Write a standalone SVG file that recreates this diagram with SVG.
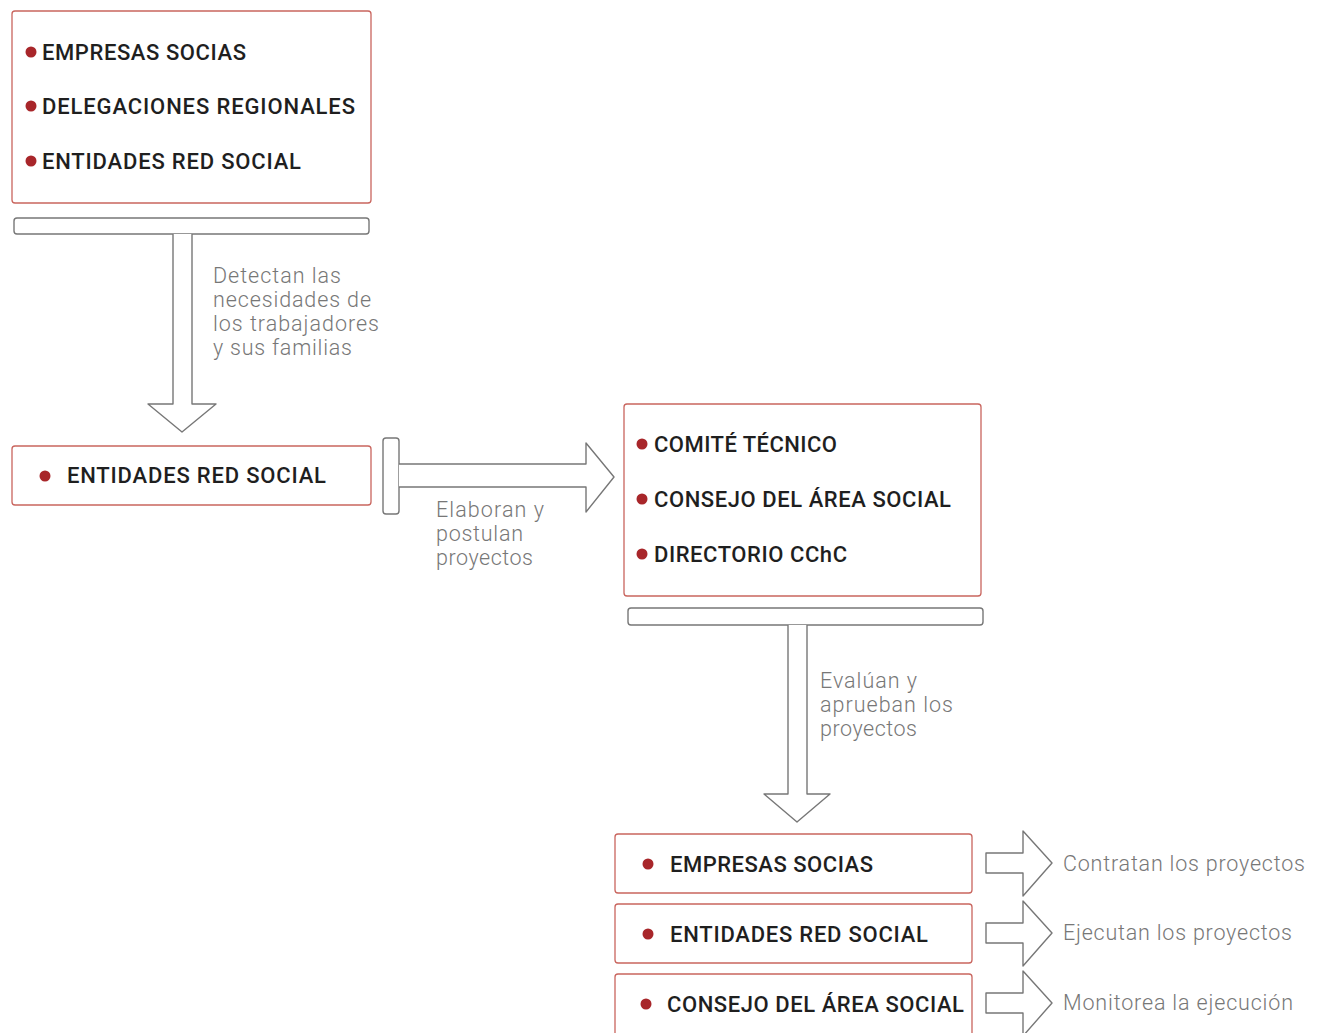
<svg xmlns="http://www.w3.org/2000/svg" width="1324" height="1033" viewBox="0 0 1324 1033">
<style>
.box{fill:#fff;stroke:#c9655e;stroke-width:1.3}
.arw{fill:#fff;stroke:#777;stroke-width:1.4;stroke-linejoin:round}
.b{fill:#a8262a}
.t{font-family:Roboto,"Liberation Sans",sans-serif;font-weight:500;font-size:22px;fill:#1f1f1f}
.g{font-family:Roboto,"Liberation Sans",sans-serif;font-weight:300;font-size:21.5px;fill:#777}
</style>
<rect width="1324" height="1033" fill="#fff"/>
<g id="connectors">
<rect class="arw" x="14" y="218" width="355" height="16" rx="3"/>
<path class="arw" d="M173,234 V404 H148 L182,432 L216,404 H192 V234"/>
<rect class="arw" x="383" y="438" width="16" height="76" rx="3"/>
<path class="arw" d="M399,464 H586 V443 L614,477 L586,512 V487 H399"/>
<rect class="arw" x="628" y="608" width="355" height="17" rx="3"/>
<path class="arw" d="M788,625 V794 H764 L797,822 L830,794 H807 V625"/>
<path class="arw" d="M1023,853 V831 L1052,863 L1023,896 V873 H986 V853 Z"/>
<path class="arw" d="M1023,923 V901 L1052,933 L1023,966 V943 H986 V923 Z"/>
<path class="arw" d="M1023,993 V971 L1052,1003 L1023,1036 V1013 H986 V993 Z"/>
<text class="g" x="213" y="283" textLength="128" lengthAdjust="spacing">Detectan las</text>
<text class="g" x="213" y="307" textLength="158" lengthAdjust="spacing">necesidades de</text>
<text class="g" x="213" y="331" textLength="166" lengthAdjust="spacing">los trabajadores</text>
<text class="g" x="213" y="355" textLength="139" lengthAdjust="spacing">y sus familias</text>
<text class="g" x="436" y="517" textLength="108" lengthAdjust="spacing">Elaboran y</text>
<text class="g" x="436" y="541" textLength="87" lengthAdjust="spacing">postulan</text>
<text class="g" x="436" y="565" textLength="97" lengthAdjust="spacing">proyectos</text>
<text class="g" x="820" y="688" textLength="97" lengthAdjust="spacing">Evalúan y</text>
<text class="g" x="820" y="712" textLength="133" lengthAdjust="spacing">aprueban los</text>
<text class="g" x="820" y="736" textLength="97" lengthAdjust="spacing">proyectos</text>
<text class="g" x="1063" y="871" textLength="242" lengthAdjust="spacing">Contratan los proyectos</text>
<text class="g" x="1063" y="940" textLength="229" lengthAdjust="spacing">Ejecutan los proyectos</text>
<text class="g" x="1063" y="1010" textLength="230" lengthAdjust="spacing">Monitorea la ejecución</text>
</g>
<g id="node-origen">
<rect class="box" x="12" y="11" width="359" height="192" rx="3"/>
<circle class="b" cx="31" cy="52" r="5.5"/>
<text class="t" x="42" y="60" textLength="204" lengthAdjust="spacing">EMPRESAS SOCIAS</text>
<circle class="b" cx="31" cy="106" r="5.5"/>
<text class="t" x="42" y="114" textLength="313" lengthAdjust="spacing">DELEGACIONES REGIONALES</text>
<circle class="b" cx="31" cy="161" r="5.5"/>
<text class="t" x="42" y="169" textLength="259" lengthAdjust="spacing">ENTIDADES RED SOCIAL</text>
</g>
<g id="node-entidades">
<rect class="box" x="12" y="446" width="359" height="59" rx="3"/>
<circle class="b" cx="45" cy="476" r="5.5"/>
<text class="t" x="67" y="483" textLength="259" lengthAdjust="spacing">ENTIDADES RED SOCIAL</text>
</g>
<g id="node-comite">
<rect class="box" x="624" y="404" width="357" height="192" rx="3"/>
<circle class="b" cx="642" cy="444" r="5.5"/>
<text class="t" x="654" y="452" textLength="183" lengthAdjust="spacing">COMITÉ TÉCNICO</text>
<circle class="b" cx="642" cy="499" r="5.5"/>
<text class="t" x="654" y="507" textLength="297" lengthAdjust="spacing">CONSEJO DEL ÁREA SOCIAL</text>
<circle class="b" cx="642" cy="554" r="5.5"/>
<text class="t" x="654" y="562" textLength="193" lengthAdjust="spacing">DIRECTORIO CChC</text>
</g>
<g id="node-empresas">
<rect class="box" x="615" y="834" width="357" height="59" rx="3"/>
<circle class="b" cx="648" cy="864" r="5.5"/>
<text class="t" x="670" y="872" textLength="203" lengthAdjust="spacing">EMPRESAS SOCIAS</text>
</g>
<g id="node-entidades2">
<rect class="box" x="615" y="904" width="357" height="59" rx="3"/>
<circle class="b" cx="648" cy="934" r="5.5"/>
<text class="t" x="670" y="942" textLength="258" lengthAdjust="spacing">ENTIDADES RED SOCIAL</text>
</g>
<g id="node-consejo">
<rect class="box" x="615" y="974" width="357" height="62" rx="3"/>
<circle class="b" cx="646" cy="1004" r="5.5"/>
<text class="t" x="667" y="1012" textLength="297" lengthAdjust="spacing">CONSEJO DEL ÁREA SOCIAL</text>
</g>
</svg>
